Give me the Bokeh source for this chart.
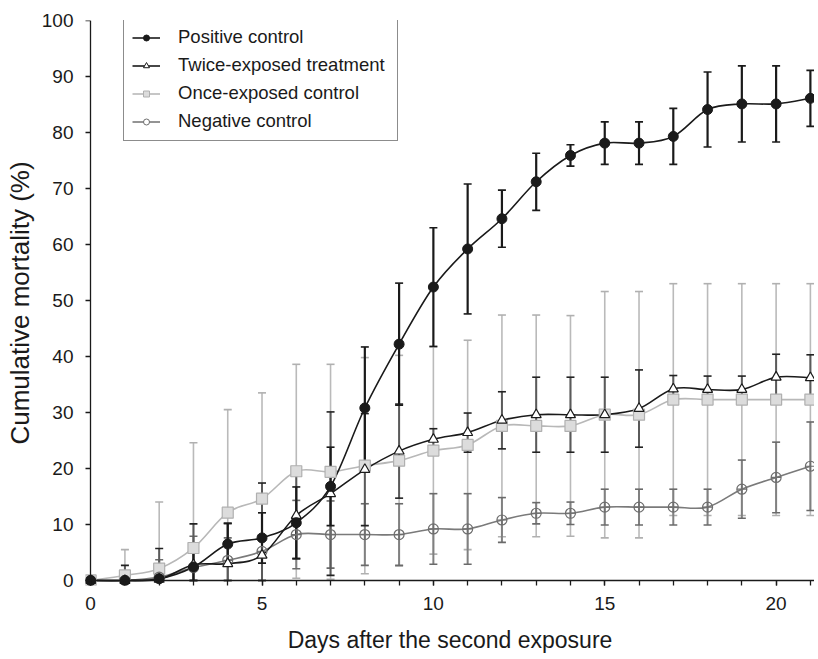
from bokeh.plotting import figure
from bokeh.models import (Range1d, FixedTicker, ColumnDataSource, Whisker, TeeHead,
                          Legend, LegendItem, LinearAxis)
from bokeh.embed import file_html
from bokeh.resources import INLINE

# ---------------- data ----------------
days = list(range(0, 22))

positive = [0, 0, 0.3, 2.4, 6.5, 7.6, 10.3, 16.8, 30.8, 42.2, 52.4, 59.2, 64.6,
            71.2, 75.9, 78.1, 78.1, 79.3, 84.1, 85.1, 85.1, 86.1]
positive_sd = [0, 0, 1.0, 2.5, 3.7, 4.5, 6.4, 7.0, 10.9, 10.9, 10.6, 11.6, 5.1,
               5.1, 1.9, 3.8, 3.8, 5.0, 6.7, 6.8, 6.8, 5.0]

twice = [0, 0, 0.2, 2.8, 3.0, 4.5, 11.6, 15.5, 19.8, 23.1, 25.2, 26.4, 28.6,
         29.6, 29.6, 29.6, 30.7, 34.2, 34.1, 34.1, 36.3, 36.2]
twice_sd = [0, 2.7, 5.5, 7.3, 7.2, 12.9, 7.7, 14.6, 10.0, 8.4, 1.9, 3.5, 5.1,
            6.7, 6.7, 6.7, 6.9, 2.4, 2.4, 2.4, 4.1, 4.1]

once = [0, 0.9, 2.1, 5.8, 12.1, 14.6, 19.5, 19.4, 20.5, 21.4, 23.2, 24.2, 27.6,
        27.6, 27.6, 29.6, 29.6, 32.3, 32.3, 32.3, 32.3, 32.3]
once_sd = [0, 4.6, 11.9, 18.8, 18.4, 18.9, 19.1, 19.2, 19.3, 18.8, 18.5, 18.7,
           19.8, 19.8, 19.7, 22.0, 22.0, 20.7, 20.7, 20.7, 20.7, 20.7]

negative = [0, 0, 0.6, 2.3, 3.6, 5.2, 8.2, 8.2, 8.2, 8.2, 9.2, 9.2, 10.8, 12.0,
            12.0, 13.1, 13.1, 13.1, 13.1, 16.3, 18.4, 20.4]
negative_sd = [0, 0, 3.1, 5.6, 4.0, 6.9, 6.1, 6.0, 5.5, 5.5, 6.3, 6.3, 4.0, 1.9,
               2.0, 3.2, 3.2, 3.2, 3.2, 5.2, 6.3, 7.9]

labels = ["Positive control", "Twice-exposed treatment",
          "Once-exposed control", "Negative control"]
y_ticks = list(range(0, 101, 10))
x_ticks = [0, 5, 10, 15, 20]

FONT = "Liberation Sans"
INK = "#1a1a1a"

p = figure(frame_width=729, frame_height=565,
           x_range=Range1d(-0.15, 21.12), y_range=Range1d(-0.9, 100),
           output_backend="svg", toolbar_location=None,
           min_border_left=85, min_border_right=0,
           min_border_top=20, min_border_bottom=74)
p.outline_line_color = None
p.xgrid.visible = False
p.ygrid.visible = False
p.background_fill_color = "white"


def smooth_segments(xs, ys):
    """Bezier control points (Catmull-Rom style) for a smoothed line through data."""
    n = len(xs)
    out = dict(x0=[], y0=[], x1=[], y1=[], cx0=[], cy0=[], cx1=[], cy1=[])
    for i in range(n - 1):
        xm, ym = (xs[i - 1], ys[i - 1]) if i > 0 else (xs[i], ys[i])
        xp, yp = (xs[i + 2], ys[i + 2]) if i + 2 < n else (xs[i + 1], ys[i + 1])
        out["x0"].append(xs[i]); out["y0"].append(ys[i])
        out["x1"].append(xs[i + 1]); out["y1"].append(ys[i + 1])
        out["cx0"].append(xs[i] + (xs[i + 1] - xm) / 6.0)
        out["cy0"].append(ys[i] + (ys[i + 1] - ym) / 6.0)
        out["cx1"].append(xs[i + 1] - (xp - xs[i]) / 6.0)
        out["cy1"].append(ys[i + 1] - (yp - ys[i]) / 6.0)
    return out


series = [
    # values, sd, line colour, err colour, cap colour, err width, marker spec
    (once, once_sd, "#b8b8b8", "#bababa", "#b0b0b0", 1.6,
     dict(marker="square", size=11, fill_color="#dcdcdc", line_color="#b0b0b0", line_width=1.2)),
    (negative, negative_sd, "#7a7a7a", "#808080", "#6a6a6a", 2.0,
     dict(marker="circle_cross", size=10, fill_color=None, line_color="#6e6e6e", line_width=1.2)),
    (twice, twice_sd, INK, "#5a5a5a", "#222222", 2.0,
     dict(marker="triangle", size=10, fill_color="white", line_color=INK, line_width=1.2)),
    (positive, positive_sd, INK, INK, INK, 2.2,
     dict(marker="circle", size=10, fill_color=INK, line_color=INK, line_width=1)),
]

# error bars (below everything)
for vals, sd, lc, ec, cc, ew, mk in series:
    src = ColumnDataSource(dict(
        x=days,
        upper=[v + s for v, s in zip(vals, sd)],
        lower=[max(0.0, v - s) for v, s in zip(vals, sd)]))
    w = Whisker(base="x", upper="upper", lower="lower", source=src,
                level="underlay", line_color=ec, line_width=ew,
                upper_head=TeeHead(size=8, line_color=cc, line_width=1.6),
                lower_head=TeeHead(size=8, line_color=cc, line_width=1.6))
    p.add_layout(w)

# smoothed lines
for vals, sd, lc, ec, cc, ew, mk in series:
    seg = ColumnDataSource(smooth_segments(days, vals))
    p.bezier(x0="x0", y0="y0", x1="x1", y1="y1", cx0="cx0", cy0="cy0",
             cx1="cx1", cy1="cy1", source=seg, line_color=lc, line_width=1.6)

# markers
for vals, sd, lc, ec, cc, ew, mk in series:
    p.scatter(x=days, y=vals, **mk)

# legend: proxy renderers holding a single NaN point (draw nothing in the plot)
NAN = float("nan")
legend_specs = [
    (labels[0], INK, dict(marker="circle", fill_color=INK, line_color=INK)),
    (labels[1], INK, dict(marker="triangle", fill_color="white", line_color=INK)),
    (labels[2], "#b8b8b8", dict(marker="square", fill_color="#dcdcdc", line_color="#b0b0b0")),
    (labels[3], "#7a7a7a", dict(marker="circle", fill_color="white", line_color="#6e6e6e")),
]
items = []
for lab, lc, mk in legend_specs:
    es = ColumnDataSource(dict(x=[NAN], y=[NAN]))
    lr = p.line("x", "y", source=es, line_color=lc, line_width=1.6)
    mr = p.scatter("x", "y", source=es, size=6, **mk)
    items.append(LegendItem(label=lab, renderers=[lr, mr]))

legend = Legend(items=items, location=(38, 444),
                border_line_color=INK, border_line_width=1,
                background_fill_color="white", background_fill_alpha=1,
                label_text_font=FONT, label_text_font_size="18.5px",
                label_text_color=INK, label_width=211,
                glyph_width=28, glyph_height=15, label_height=21,
                spacing=6, padding=8, margin=0, label_standoff=18)
p.add_layout(legend)

# label axes (at the frame edge): only tick labels and titles
xa = p.xaxis[0]
ya = p.yaxis[0]
for ax in (xa, ya):
    ax.axis_line_color = None
    ax.major_tick_line_color = None
    ax.minor_tick_line_color = None
    ax.major_tick_out = 0
    ax.minor_tick_out = 0
    ax.major_tick_in = 0
    ax.minor_tick_in = 0
    ax.major_label_text_font = FONT
    ax.major_label_text_font_size = "19px"
    ax.major_label_text_color = INK
    ax.axis_label_text_font = FONT
    ax.axis_label_text_font_style = "normal"
    ax.axis_label_text_color = INK
xa.ticker = FixedTicker(ticks=x_ticks, minor_ticks=[])
xa.major_label_standoff = 11
xa.axis_label = "Days after the second exposure"
xa.axis_label_text_font_size = "23px"
xa.axis_label_standoff = 14
ya.ticker = FixedTicker(ticks=y_ticks, minor_ticks=[])
ya.major_label_standoff = 12
ya.axis_label = "Cumulative mortality (%)"
ya.axis_label_text_font_size = "26px"
ya.axis_label_standoff = 4

# spine axes fixed at 0 (ticks pointing "in" from the opposite side = outward visually)
sx = LinearAxis(fixed_location=0, ticker=FixedTicker(ticks=x_ticks, minor_ticks=days))
sy = LinearAxis(fixed_location=0, ticker=FixedTicker(ticks=y_ticks, minor_ticks=[]))
for ax in (sx, sy):
    ax.axis_line_color = INK
    ax.axis_line_width = 1.3
    ax.major_tick_line_color = INK
    ax.major_tick_line_width = 1.3
    ax.minor_tick_line_color = INK
    ax.minor_tick_line_width = 1.3
    ax.major_tick_out = 0
    ax.minor_tick_out = 0
    ax.major_label_text_font_size = "0px"
    ax.major_label_text_alpha = 0
    ax.major_label_standoff = 0
sx.major_tick_in = 12
sx.minor_tick_in = 7
sy.major_tick_in = 7
sy.minor_tick_in = 0
p.add_layout(sx, "above")
p.add_layout(sy, "right")

open("out.html", "w").write(file_html(p, INLINE))
